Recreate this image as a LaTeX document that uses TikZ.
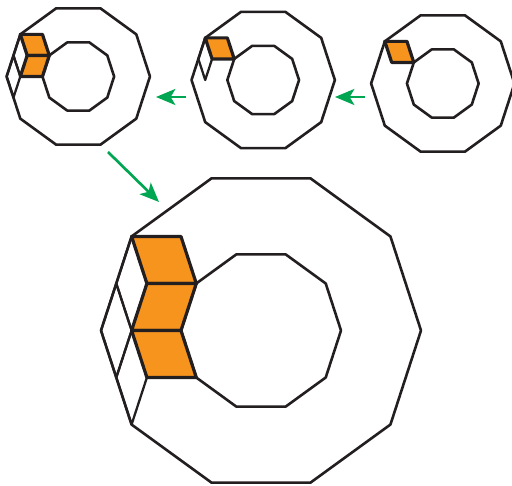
\documentclass[tikz,border=0pt]{standalone}
\usetikzlibrary{arrows.meta}
\definecolor{InkBlack}   {HTML}{231F20}
\definecolor{TileOrange} {HTML}{F7941E}
\definecolor{ArrowGreen} {HTML}{00A651}
\tikzset{
  ring/.style={draw=InkBlack,line width=1.95pt,line join=round},
  thin tile/.style={draw=InkBlack,line width=1.7pt,line join=round},
  tile/.style={draw=InkBlack,fill=TileOrange,line width=2.4pt,line join=round},
  garr/.style={-{Stealth[length=14.5pt,width=12pt,inset=3.5pt]},line width=2pt,color=ArrowGreen},
}
\newcommand{\decRing}{%
  \draw[ring] (0:160) \foreach \a in {36,72,...,324}{ -- (\a:160)} -- cycle;
  \draw[ring] (0:80) \foreach \a in {36,72,...,324}{ -- (\a:80)} -- cycle;
}
\newcommand{\tileTop}{\draw[tile] (-129.4,94) -- (-80,94) -- (-64.7,47) -- (-114.1,47) -- cycle;}
\newcommand{\tileMid}{\draw[tile] (-114.1,47) -- (-64.7,47) -- (-80,0) -- (-129.4,0) -- cycle;}
\newcommand{\tileLow}{\draw[tile] (-129.4,0) -- (-80,0) -- (-64.7,-47) -- (-114.1,-47) -- cycle;}
\newcommand{\thinTop}{\draw[thin tile] (-129.4,94) -- (-144.7,47) -- (-129.4,0) -- (-114.1,47) -- cycle;}
\newcommand{\thinMid}{\draw[thin tile] (-144.7,47) -- (-160,0) -- (-144.7,-47) -- (-129.4,0) -- cycle;}
\newcommand{\thinLow}{\draw[thin tile] (-129.4,0) -- (-144.7,-47) -- (-129.4,-94) -- (-114.1,-47) -- cycle;}
\begin{document}
\begin{tikzpicture}[x=0.75pt,y=0.75pt]
  \useasboundingbox (0,0) rectangle (512,486);

  % right small ring
  \begin{scope}[shift={(442.8,402.5)},scale=0.448]
    \decRing
    \tileTop
  \end{scope}

  % middle small ring
  \begin{scope}[shift={(263.2,406)},scale=0.448]
    \decRing
    \thinTop
    \tileTop
  \end{scope}

  % left small ring
  \begin{scope}[shift={(78.3,409.5)},scale=0.448]
    \decRing
    \thinTop
    \thinMid
    \tileTop
    \tileMid
  \end{scope}

  % large ring
  \begin{scope}[shift={(261,155.5)}]
    \decRing
    \thinTop
    \thinMid
    \thinLow
    \tileTop
    \tileMid
    \tileLow
  \end{scope}

  % green arrows
  \coordinate (rightTail) at (364.5,389);
  \coordinate (rightTip)  at (335,389);
  \coordinate (leftTail)  at (186,389);
  \coordinate (leftTip)   at (156,389);
  \coordinate (downTail)  at (108,334);
  \coordinate (downTip)   at (159,284);
  \draw[garr] (rightTail) -- (rightTip);
  \draw[garr] (leftTail) -- (leftTip);
  \draw[garr] (downTail) -- (downTip);

\end{tikzpicture}
\end{document}
